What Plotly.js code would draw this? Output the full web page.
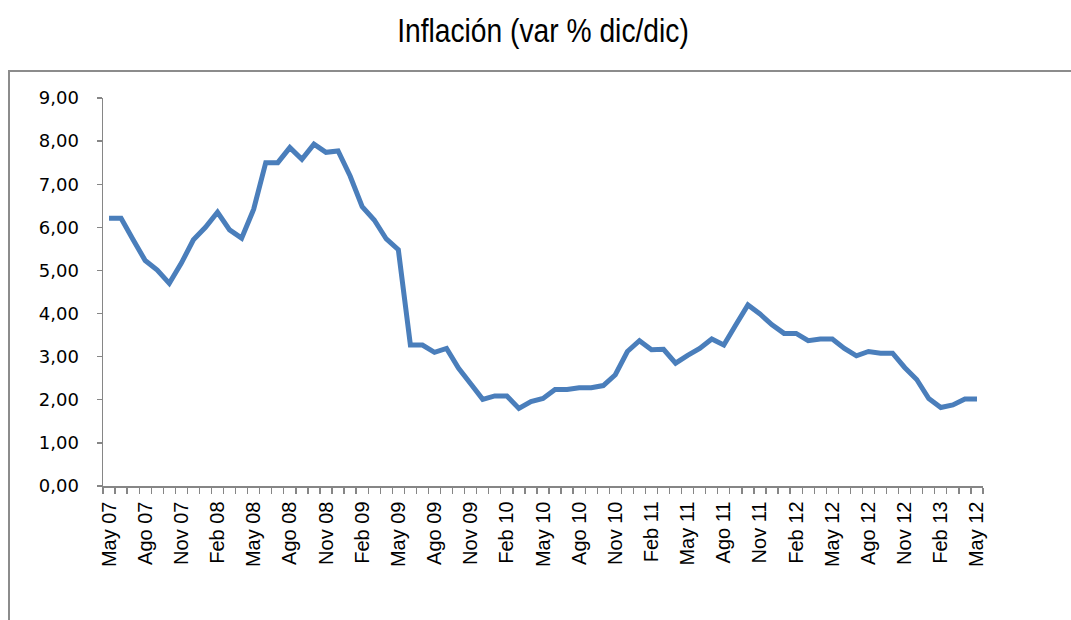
<!DOCTYPE html>
<html>
<head>
<meta charset="utf-8">
<script src="https://cdn.plot.ly/plotly-3.0.1.min.js"></script>
<style>html,body{margin:0;padding:0;background:#fff;}#chart{width:1071px;height:620px;}</style>
</head>
<body>
<div id="chart"></div>
<script>
// Monthly inflation (var % dic/dic), May 07 .. May 13 (73 months)
const inflacion = [
  6.21, 6.21, 5.71, 5.23, 5.01, 4.70, 5.17, 5.71, 6.00, 6.35, 5.94, 5.75,
  6.42, 7.50, 7.50, 7.85, 7.58, 7.93, 7.74, 7.77, 7.19, 6.48, 6.17, 5.73,
  5.48, 3.27, 3.27, 3.10, 3.19, 2.73, 2.37, 2.01, 2.09, 2.09, 1.80, 1.96,
  2.03, 2.24, 2.24, 2.28, 2.28, 2.33, 2.58, 3.12, 3.37, 3.16, 3.17, 2.85,
  3.03, 3.19, 3.41, 3.27, 3.74, 4.20, 3.99, 3.74, 3.54, 3.54, 3.37, 3.41,
  3.41, 3.19, 3.02, 3.12, 3.08, 3.08, 2.75, 2.47, 2.03, 1.82, 1.88, 2.02,
  2.02
];
const tickLabels = [
  "May 07","Ago 07","Nov 07","Feb 08","May 08","Ago 08","Nov 08","Feb 09",
  "May 09","Ago 09","Nov 09","Feb 10","May 10","Ago 10","Nov 10","Feb 11",
  "May 11","Ago 11","Nov 11","Feb 12","May 12","Ago 12","Nov 12","Feb 13","May 12"
];
const labelStep = 3;
const yTicks = [0,1,2,3,4,5,6,7,8,9];

const xIdx = inflacion.map((_, i) => i);
const tickPos = tickLabels.map((_, i) => i * labelStep);

const trace = {
  x: xIdx, y: inflacion, type: 'scatter', mode: 'lines',
  line: {color: '#4A7EBB', width: 5, shape: 'linear'},
  hoverinfo: 'skip'
};

const axisGrey = '#868686';
const layout = {
  width: 1071, height: 620,
  margin: {l: 103, r: 88, t: 98, b: 134},
  paper_bgcolor: '#fff', plot_bgcolor: '#fff',
  separators: ',.',
  showlegend: false,
  title: {
    text: 'Inflación (var % dic/dic)',
    x: 0.5, xref: 'paper', xanchor: 'center', y: 0.952, yanchor: 'middle',
    font: {family: '"Liberation Sans", Arial, sans-serif', size: 34, color: '#000'}
  },
  xaxis: {
    range: [-0.5, inflacion.length - 0.5],
    tickmode: 'array', tickvals: tickPos, ticktext: tickLabels,
    tickangle: -90, ticks: '', showgrid: false, zeroline: false,
    showline: true, linecolor: axisGrey, linewidth: 1.5,
    ticklabelstandoff: 6,
    tickfont: {family: '"Liberation Sans", Arial, sans-serif', size: 20, color: '#000'},
    minor: {tick0: -0.5, dtick: 1, ticks: 'outside', ticklen: 6, tickcolor: axisGrey, tickwidth: 1.3, showgrid: false},
    fixedrange: true
  },
  yaxis: {
    range: [0, 9], tickmode: 'array', tickvals: yTicks, tickformat: '.2f',
    ticks: 'outside', ticklen: 5, tickcolor: axisGrey, tickwidth: 1.3,
    showgrid: false, zeroline: false,
    showline: true, linecolor: axisGrey, linewidth: 1.5,
    ticklabelstandoff: 14,
    tickfont: {family: '"DejaVu Sans", Verdana, sans-serif', size: 18, color: '#000'},
    fixedrange: true
  },
  shapes: [{
    type: 'rect', xref: 'paper', yref: 'paper',
    x0: (9 - 103) / 880, x1: 1.3, y0: -0.6, y1: (486 - 71) / 388,
    line: {color: '#8c8c8c', width: 2}, fillcolor: 'rgba(0,0,0,0)', layer: 'below'
  }]
};

Plotly.newPlot('chart', [trace], layout, {staticPlot: true, displayModeBar: false}).then(gd => {
  // condense the title horizontally to mimic the narrow typeface of the original
  const t = gd.querySelector('.gtitle');
  if (t) {
    const bb = t.getBBox();
    const cx = bb.x + bb.width / 2;
    t.setAttribute('transform', `translate(${cx},0) scale(0.83,1) translate(${-cx},0)`);
  }
});
</script>
</body>
</html>
